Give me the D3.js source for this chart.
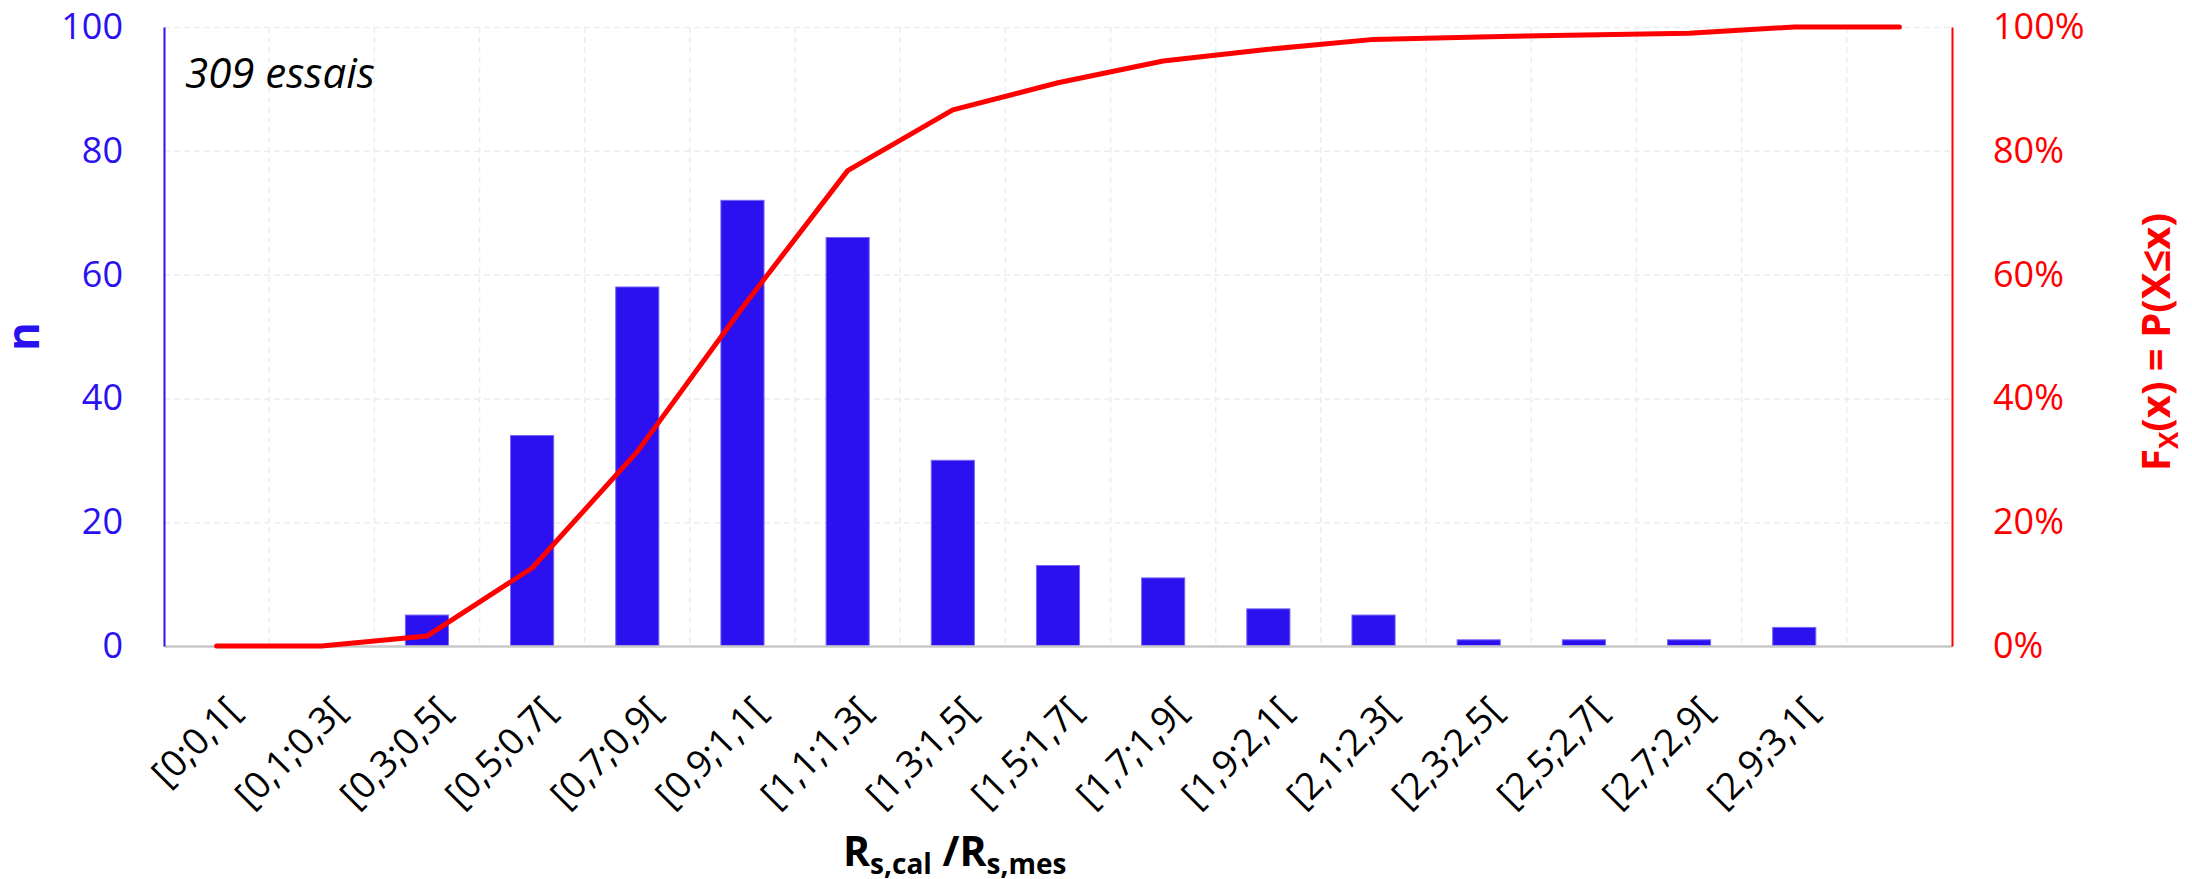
<!DOCTYPE html>
<html>
<head>
<meta charset="utf-8">
<title>Distribution Rs,cal / Rs,mes</title>
<script src="https://d3js.org/d3.v7.min.js"></script>
<style>
  body {
    margin: 0;
    padding: 0;
    background: #fff;
    font-family: "Open Sans", sans-serif;
  }
  .grid line {
    stroke: #ededed;
    stroke-width: 1.5px;
    stroke-dasharray: 6 4;
  }
  .bar {
    fill: #2b10f0;
    stroke: #7565f5;
    stroke-width: 1px;
  }
</style>
</head>
<body>
<div id="chart"></div>
<script>
// classes of Rs,cal / Rs,mes
var categories = ["[0;0,1[", "[0,1;0,3[", "[0,3;0,5[", "[0,5;0,7[", "[0,7;0,9[", "[0,9;1,1[",
  "[1,1;1,3[", "[1,3;1,5[", "[1,5;1,7[", "[1,7;1,9[", "[1,9;2,1[", "[2,1;2,3[",
  "[2,3;2,5[", "[2,5;2,7[", "[2,7;2,9[", "[2,9;3,1["];
// number of tests per class
var counts = [0, 0, 5, 34, 58, 72, 66, 30, 13, 11, 6, 5, 1, 1, 1, 3];
// cumulative frequency in % (one more point than the classes)
var cumul = [0, 0, 1.6, 12.6, 31.4, 54.7, 76.8, 86.6, 91.0, 94.5, 96.4, 98.0, 98.4, 98.7, 99.0, 100, 100];
var nTicks = [0, 20, 40, 60, 80, 100];
var pctTicks = [0, 20, 40, 60, 80, 100];

var width = 2192, height = 879;
// plot area (window.top is read-only, so no "top" here)
var pLeft = 164, pRight = 1952, pTop = 27, pBottom = 646;
var blue = "#2b10f0", red = "#ff0000";

var svg = d3.select("#chart").append("svg")
  .attr("width", width)
  .attr("height", height)
  .style("display", "block");

// 17 bands: the last one is empty but holds the end of the curve
var x = d3.scaleBand()
  .domain(d3.range(cumul.length))
  .range([pLeft, pRight])
  .paddingInner(0.59)
  .paddingOuter(0.295);
var y = d3.scaleLinear().domain([0, 100]).range([pBottom, pTop]);
var yR = d3.scaleLinear().domain([0, 100]).range([pBottom, pTop]);
var cx = function(i) { return x(i) + x.bandwidth() / 2; };

// gridlines
svg.append("g")
  .attr("class", "grid")
  .attr("transform", "translate(" + pLeft + ",0)")
  .call(d3.axisLeft(y).tickValues(nTicks.slice(1)).tickSize(-(pRight - pLeft)).tickFormat(""))
  .call(function(g) { g.select(".domain").remove(); });

var bounds = d3.range(1, cumul.length).map(function(i) { return x(i) - x.step() * x.paddingInner() / 2; });
svg.append("g")
  .attr("class", "grid")
  .selectAll("line")
  .data(bounds)
  .enter()
  .append("line")
  .attr("x1", function(d) { return d; })
  .attr("x2", function(d) { return d; })
  .attr("y1", pTop)
  .attr("y2", pBottom);

// bars
svg.append("g")
  .selectAll("rect")
  .data(counts)
  .enter()
  .append("rect")
  .attr("class", "bar")
  .attr("x", function(d, i) { return x(i); })
  .attr("width", x.bandwidth())
  .attr("y", function(d) { return y(d); })
  .attr("height", function(d) { return y(0) - y(d); });

// category axis
var xAxis = svg.append("g")
  .attr("transform", "translate(0," + pBottom + ")")
  .call(d3.axisBottom(x).tickSize(0).tickFormat(function(i) { return categories[i] || ""; }));
xAxis.select(".domain")
  .attr("stroke", "#c8c8c8")
  .attr("stroke-width", 2.5);
xAxis.selectAll("text")
  .attr("y", 0)
  .attr("dy", 0)
  .attr("text-anchor", "end")
  .attr("transform", "translate(26,67) rotate(-45)")
  .style("font-family", "Open Sans")
  .style("font-size", "37px")
  .attr("fill", "#000");

// left axis
var yAxis = svg.append("g")
  .attr("transform", "translate(" + pLeft + ",0)")
  .call(d3.axisLeft(y).tickValues(nTicks).tickSize(0).tickPadding(41).tickSizeOuter(0));
yAxis.select(".domain").attr("stroke", blue).attr("stroke-width", 2);
yAxis.selectAll("text")
  .style("font-family", "Open Sans")
  .style("font-size", "36px")
  .attr("fill", blue);

// right axis
var yAxisR = svg.append("g")
  .attr("transform", "translate(" + pRight + ",0)")
  .call(d3.axisRight(yR).tickValues(pctTicks).tickSize(0).tickPadding(41).tickSizeOuter(0)
    .tickFormat(function(d) { return d + "%"; }));
yAxisR.select(".domain").attr("stroke", red).attr("stroke-width", 2);
yAxisR.selectAll("text")
  .style("font-family", "Open Sans")
  .style("font-size", "36px")
  .attr("fill", red);

// cumulative curve
var line = d3.line()
  .x(function(d, i) { return cx(i); })
  .y(function(d) { return yR(d); });
svg.append("path")
  .datum(cumul)
  .attr("d", line)
  .attr("fill", "none")
  .attr("stroke", red)
  .attr("stroke-width", 5)
  .attr("stroke-linejoin", "round")
  .attr("stroke-linecap", "round");

// annotation
svg.append("text")
  .attr("x", 185)
  .attr("y", 88)
  .style("font-family", "Open Sans")
  .style("font-style", "italic")
  .style("font-size", "42px")
  .attr("fill", "#000")
  .text("309 essais");

// axis titles
svg.append("text")
  .attr("transform", "translate(39," + ((pTop + pBottom) / 2) + ") rotate(-90)")
  .attr("text-anchor", "middle")
  .style("font-family", "Open Sans")
  .style("font-weight", "bold")
  .style("font-size", "44px")
  .attr("fill", blue)
  .text("n");

var rTitle = svg.append("text")
  .attr("transform", "translate(2170,342) rotate(-90)")
  .attr("text-anchor", "middle")
  .style("font-family", "Open Sans")
  .style("font-weight", "bold")
  .style("font-size", "40px")
  .attr("fill", red);
rTitle.append("tspan").text("F");
rTitle.append("tspan").attr("dy", 8).style("font-size", "26px").text("X");
rTitle.append("tspan").attr("dy", -8).text("(x) = P(X≤x)");

var xTitle = svg.append("text")
  .attr("x", 843)
  .attr("y", 866)
  .style("font-family", "Open Sans")
  .style("font-weight", "bold")
  .style("font-size", "41px")
  .attr("fill", "#000");
xTitle.append("tspan").text("R");
xTitle.append("tspan").attr("dy", 8).style("font-size", "28px").text("s,cal");
xTitle.append("tspan").attr("dy", -8).text(" /R");
xTitle.append("tspan").attr("dy", 8).style("font-size", "28px").text("s,mes");
</script>
</body>
</html>
